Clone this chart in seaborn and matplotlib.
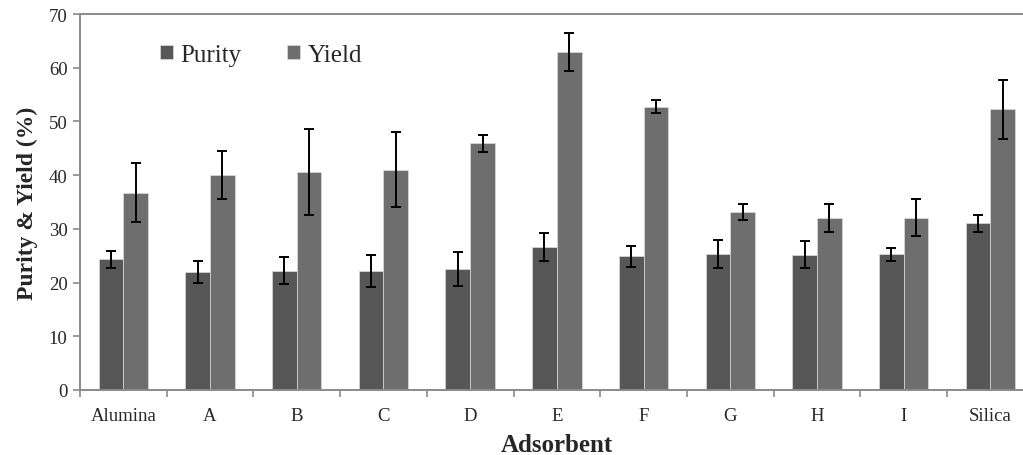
import matplotlib
matplotlib.use("Agg")
import matplotlib.pyplot as plt
import seaborn as sns
import pandas as pd
import numpy as np

categories = ["Alumina", "A", "B", "C", "D", "E", "F", "G", "H", "I", "Silica"]
purity = [24.3, 22.0, 22.2, 22.2, 22.5, 26.6, 24.9, 25.4, 25.2, 25.3, 31.0]
purity_err = [1.6, 2.0, 2.5, 3.0, 3.1, 2.6, 2.0, 2.6, 2.5, 1.2, 1.5]
yield_vals = [36.7, 40.0, 40.6, 41.0, 45.9, 62.9, 52.7, 33.2, 32.0, 32.1, 52.3]
yield_err = [5.5, 4.5, 8.0, 7.0, 1.5, 3.5, 1.2, 1.5, 2.6, 3.5, 5.5]
series = ["Purity", "Yield"]
yticks = [0, 10, 20, 30, 40, 50, 60, 70]

df = pd.DataFrame({
    "Adsorbent": categories * 2,
    "Series": [series[0]] * len(categories) + [series[1]] * len(categories),
    "Value": purity + yield_vals,
})
errs = {series[0]: purity_err, series[1]: yield_err}

sns.set_style("white")
plt.rcParams["font.family"] = ["Liberation Serif", "DejaVu Serif"]

W, H = 1023, 456
fig = plt.figure(figsize=(W / 100, H / 100), dpi=100)
ax = fig.add_axes([80 / W, 65 / H, (1033.7 - 80) / W, (391 - 15) / H])

sns.barplot(data=df, x="Adsorbent", y="Value", hue="Series",
            palette=["#575757", "#6e6e6e"], width=0.57, errorbar=None,
            saturation=1, edgecolor="#dcdcdc", linewidth=0.5, ax=ax)

for cont, name in zip(ax.containers, series):
    xs = [p.get_x() + p.get_width() / 2 for p in cont.patches]
    hs = [p.get_height() for p in cont.patches]
    ax.errorbar(xs, hs, yerr=errs[name], fmt="none", ecolor="black",
                elinewidth=1.4, capsize=3.8, capthick=1.4, zorder=5)

ax.set_ylim(0, 70)
ax.set_xlim(-0.5, len(categories) - 0.5)
ax.set_yticks(yticks)
ax.set_yticklabels([str(v) for v in yticks], fontsize=13.5)
ax.set_xticks(range(len(categories)))
ax.set_xticklabels(categories, fontsize=13.5)
ax.set_xticks(np.arange(-0.5, len(categories), 1.0), minor=True)
ax.tick_params(axis="x", which="major", length=0, pad=12)
ax.tick_params(axis="x", which="minor", length=5, width=1.2, color="#8a8a8a", direction="out", bottom=True)
ax.tick_params(axis="y", which="major", length=5, width=1.2, color="#8a8a8a", direction="out", left=True, pad=4)

for s in ["left", "bottom", "top"]:
    ax.spines[s].set_visible(True)
    ax.spines[s].set_color("#8a8a8a")
    ax.spines[s].set_linewidth(1.4)
ax.spines["right"].set_visible(False)

ax.set_xlabel("Adsorbent", fontsize=18, fontweight="bold", labelpad=7)
ax.set_ylabel("Purity & Yield (%)", fontsize=17, fontweight="bold", labelpad=8)

handles, labels = ax.get_legend_handles_labels()
ax.legend(handles, labels, loc="center left",
          bbox_to_anchor=(160 / W, 1 - 56 / H), bbox_transform=fig.transFigure,
          ncol=2, frameon=False, fontsize=18, handlelength=0.5, handleheight=0.5,
          handletextpad=0.3, columnspacing=1.85, borderpad=0, borderaxespad=0)

fig.savefig("out.png", dpi=100)
